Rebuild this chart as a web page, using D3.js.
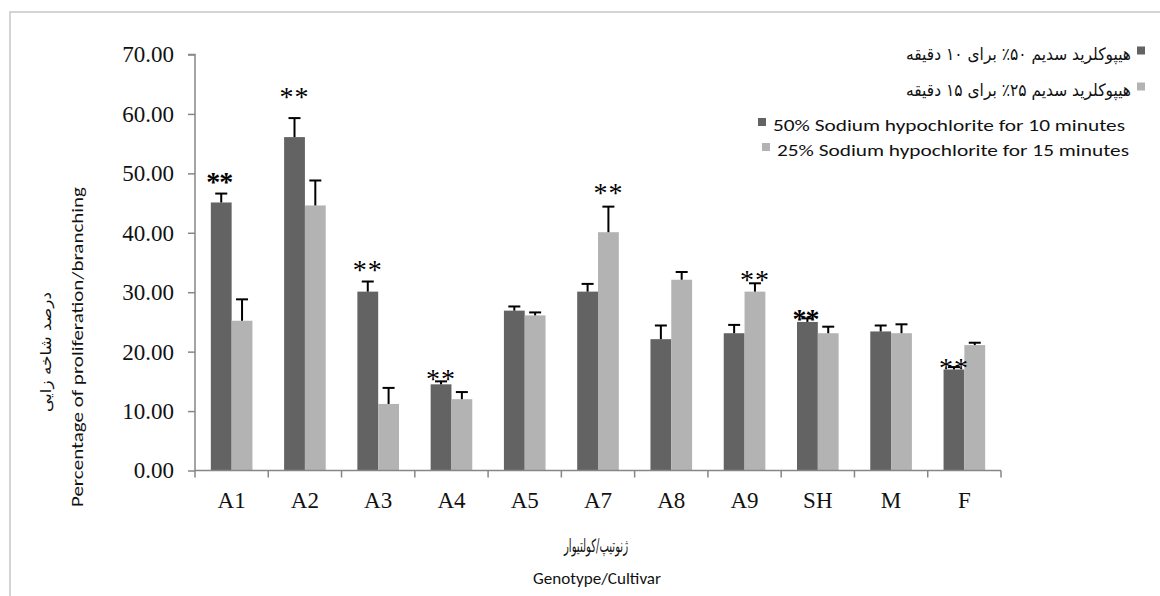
<html>
<script src="https://d3js.org/d3.v7.min.js"></script>
<style>
body {margin: 0; background: white;}
.serif {font-family: "Liberation Serif", "Times New Roman", serif;}
.sans {font-family: Carlito, "Liberation Sans Narrow", "Open Sans", sans-serif;}
.fa {font-family: "DejaVu Serif", "DejaVu Sans", serif;}
</style>
<body>
<svg width=1160 height=596></svg>
<script>
// chart values
var categories = ["A1","A2","A3","A4","A5","A7","A8","A9","SH","M","F"];
var series = ["50% Sodium hypochlorite for 10 minutes","25% Sodium hypochlorite for 15 minutes"];
var seriesFa = ["هیپوکلرید سدیم ۵۰٪ برای ۱۰ دقیقه","هیپوکلرید سدیم ۲۵٪ برای ۱۵ دقیقه"];
var means10 = [45.1, 56.1, 30.1, 14.5, 26.9, 30.1, 22.1, 23.1, 25.0, 23.4, 17.0];
var means15 = [25.2, 44.6, 11.2, 12.0, 26.1, 40.1, 32.1, 30.1, 23.1, 23.1, 21.1];
var errTop10 = [46.6, 59.3, 31.8, 15.0, 27.6, 31.4, 24.4, 24.5, 25.6, 24.4, 17.4];
var errTop15 = [28.8, 48.8, 13.9, 13.2, 26.6, 44.4, 33.4, 31.5, 24.2, 24.6, 21.5];
var yTicks = [0,10,20,30,40,50,60,70];
// significance marks: category, series index, label, height (value units)
var stars = [
  ["A1",0,"**",49.2], ["A2",0,"* *",63.5], ["A3",0,"* *",34.4], ["A4",0,"* *",16.1],
  ["A7",1,"* *",47.4], ["A9",1,"* *",32.7], ["SH",0,"**",26.2], ["F",0,"* *",17.9]
];

var colors = ["#636363","#b3b3b3"];

var svg = d3.select("svg");

// outer frame (top and left edges)
svg.append("path").attr("d","M10,596V12H1160").attr("fill","none").attr("stroke","#c6c6c6").attr("stroke-width",1.5);

var x0 = d3.scaleBand().domain(categories).range([195,1001]);
var bw = x0.bandwidth();
var x1 = d3.scaleBand().domain([0,1]).range([bw*0.216, bw*0.784]);
var y = d3.scaleLinear().domain([0,70]).range([470.5,54.5]);

var rows = categories.map(function(c,i) {
  return {cat:c, vals:[means10[i],means15[i]], errs:[errTop10[i],errTop15[i]]};
});

var g = svg.selectAll("g.grp").data(rows).enter().append("g")
  .attr("class","grp")
  .attr("transform",function(d){return "translate("+x0(d.cat)+",0)";});

g.selectAll("rect").data(function(d){return d.vals.map(function(v,k){return {k:k,v:v};});})
  .enter().append("rect")
  .attr("x",function(d){return x1(d.k);})
  .attr("width",x1.bandwidth())
  .attr("y",function(d){return y(d.v);})
  .attr("height",function(d){return y(0)-y(d.v);})
  .attr("fill",function(d){return colors[d.k];});

// error bars (upper only)
var eb = g.selectAll("g.err").data(function(d){return d.errs.map(function(e,k){return {k:k,v:d.vals[k],e:e};});})
  .enter().append("g").attr("class","err")
  .attr("stroke","black").attr("stroke-width",2);
eb.append("line")
  .attr("x1",function(d){return x1(d.k)+x1.bandwidth()/2;})
  .attr("x2",function(d){return x1(d.k)+x1.bandwidth()/2;})
  .attr("y1",function(d){return y(d.v);})
  .attr("y2",function(d){return y(d.e);});
eb.append("line")
  .attr("x1",function(d){return x1(d.k)+x1.bandwidth()/2-6;})
  .attr("x2",function(d){return x1(d.k)+x1.bandwidth()/2+6;})
  .attr("y1",function(d){return y(d.e);})
  .attr("y2",function(d){return y(d.e);});

// y axis
var yAxis = svg.append("g").attr("transform","translate(195,0)")
  .call(d3.axisLeft(y).tickValues(yTicks).tickFormat(d3.format(".2f")).tickSize(7).tickPadding(14));
yAxis.selectAll("path, line").attr("stroke","#868686").attr("stroke-width",1.5);
yAxis.selectAll("text").attr("class","serif").style("font-size","23px").attr("fill","#111");
yAxis.select(".domain").attr("d","M-7,54.5H0V470.5");

// x axis
var xAxis = svg.append("g").attr("transform","translate(0,470.5)")
  .call(d3.axisBottom(x0).tickSize(0).tickPadding(0));
xAxis.selectAll("path").attr("stroke","#868686").attr("stroke-width",1.5);
xAxis.select(".domain").attr("d","M195,0H1001");
xAxis.selectAll("text").attr("class","serif").style("font-size","23px").attr("fill","#111")
  .attr("y",37).attr("dy",0);
xAxis.selectAll("line.bound").data(categories.concat(["end"])).enter().append("line")
  .attr("class","bound")
  .attr("x1",function(d){return d=="end" ? 1001 : x0(d);})
  .attr("x2",function(d){return d=="end" ? 1001 : x0(d);})
  .attr("y1",0).attr("y2",7)
  .attr("stroke","#868686").attr("stroke-width",1.5);

// significance stars
svg.selectAll("text.star").data(stars).enter().append("text")
  .attr("class","serif star")
  .attr("x",function(d){return x0(d[0])+x1(d[1])+x1.bandwidth()/2-2;})
  .attr("y",function(d){return y(d[3])+13;})
  .attr("text-anchor","middle")
  .style("font-size","28px")
  .style("font-weight",function(d){return d[2]=="**" ? "bold" : "normal";})
  .style("letter-spacing",function(d){return d[2]=="**" ? "-1px" : "-3px";})
  .attr("fill","#000")
  .text(function(d){return d[2];});

// axis titles
svg.append("text").attr("class","sans")
  .attr("transform","translate(83,347) rotate(-90)")
  .attr("text-anchor","middle")
  .attr("textLength",320).attr("lengthAdjust","spacingAndGlyphs")
  .style("font-size","17px").attr("fill","#111")
  .text("Percentage of proliferation/branching");

svg.append("text").attr("class","fa")
  .attr("transform","translate(51,352) rotate(-90)")
  .attr("text-anchor","middle").attr("direction","rtl")
  .attr("textLength",120).attr("lengthAdjust","spacingAndGlyphs")
  .style("font-size","15px").attr("fill","#111")
  .text("درصد شاخه زایی");

svg.append("text").attr("class","fa")
  .attr("x",596).attr("y",552)
  .attr("text-anchor","middle").attr("direction","rtl")
  .attr("textLength",64).attr("lengthAdjust","spacingAndGlyphs")
  .style("font-size","18px").attr("fill","#111")
  .text("ژنوتیپ/کولتیوار");

svg.append("text").attr("class","sans")
  .attr("x",597).attr("y",584)
  .attr("text-anchor","middle")
  .attr("textLength",128).attr("lengthAdjust","spacingAndGlyphs")
  .style("font-size","17px").attr("fill","#111")
  .text("Genotype/Cultivar");

// Persian legend
var legFa = svg.selectAll("g.legfa").data(seriesFa).enter().append("g")
  .attr("transform",function(d,i){return "translate(0,"+(i*36)+")";});
legFa.append("rect").attr("x",1137).attr("y",46.5).attr("width",8).attr("height",8)
  .attr("fill",function(d,i){return colors[i];});
legFa.append("text").attr("class","fa")
  .attr("x",1131).attr("y",60).attr("direction","rtl")
  .attr("textLength",225).attr("lengthAdjust","spacingAndGlyphs")
  .style("font-size","17px").attr("fill","#111")
  .text(function(d){return d;});

// English legend
var legEn = svg.selectAll("g.legen").data(series).enter().append("g")
  .attr("transform",function(d,i){return "translate("+(i*4)+","+(i*25)+")";});
legEn.append("rect").attr("x",758).attr("y",118).attr("width",8).attr("height",8)
  .attr("fill",function(d,i){return colors[i];});
legEn.append("text").attr("class","sans")
  .attr("x",773).attr("y",131)
  .attr("textLength",352).attr("lengthAdjust","spacingAndGlyphs")
  .style("font-size","17px").attr("fill","#111")
  .text(function(d){return d;});
</script>
</body>
</html>
